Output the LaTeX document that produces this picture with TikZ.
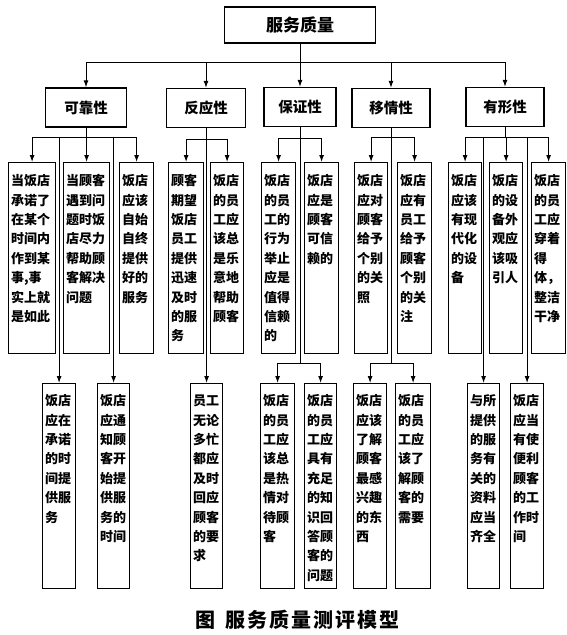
\documentclass[tikz,border=0pt]{standalone}
\usepackage{fontspec}
\setmainfont{Noto Sans CJK SC}
\newfontfamily\capfont[LetterSpace=10]{Noto Sans CJK SC}
\usetikzlibrary{arrows.meta}
\tikzset{
  conn/.style={line width=1pt},
  arrowconn/.style={conn, -{Latex[length=7pt,width=5pt]}},
  rootbox/.style={draw, line width=1.3pt, inner sep=0pt, minimum width=151pt, minimum height=36pt,
    font=\fontsize{17pt}{19pt}\selectfont\bfseries},
  catbox/.style={draw, line width=1.3pt, inner sep=0pt, minimum height=39pt,
    font=\fontsize{14.5pt}{16pt}\selectfont\bfseries},
  leafbox/.style={draw, line width=1.2pt, inner xsep=2.5pt, inner ysep=0pt, anchor=north west},
}
% #1 name, #2 x, #3 y, #4 width, #5 height, #6 first-line height, #7 text
\newcommand\leafnode[7]{%
  \node[leafbox, minimum width=#4pt] (#1) at (#2,#3)
    {\parbox[t][#5pt][t]{\dimexpr #4pt-5pt\relax}{\fontsize{13pt}{19.4pt}\selectfont\bfseries\rule{0pt}{#6pt}#7}};}
\begin{document}
\begin{tikzpicture}[x=1pt,y=-1pt]
\useasboundingbox (0,0) rectangle (566,635);

% top and category boxes
\node[rootbox] (root) at (300,25) {服务质量};
\node[catbox, minimum width=81pt] (kk) at (86,107.5) {可靠性};
\node[catbox, minimum width=79pt] (fy) at (206,108) {反应性};
\node[catbox, minimum width=72pt] (bz) at (300,107) {保证性};
\node[catbox, minimum width=78pt] (yq) at (391,108) {移情性};
\node[catbox, minimum width=78pt] (yx) at (505,107) {有形性};

% level 3
\leafnode{K1}{8}{162}{47}{191}{23}{当饭店\\承诺了\\在某个\\时间内\\作到某\\事,事\\实上就\\是如此}
\leafnode{K2}{63}{162}{46}{191}{23}{当顾客\\遇到问\\题时饭\\店尽力\\帮助顾\\客解决\\问题}
\leafnode{K3}{119}{162}{34}{191}{23}{饭店\\应该\\自始\\自终\\提供\\好的\\服务}
\leafnode{F1}{168}{162}{35}{191}{23}{顾客\\期望\\饭店\\员工\\提供\\迅速\\及时\\的服\\务}
\leafnode{F2}{210}{162}{33}{191}{23}{饭店\\的员\\工应\\该总\\是乐\\意地\\帮助\\顾客}
\leafnode{B1}{261}{162}{34}{191}{23}{饭店\\的员\\工的\\行为\\举止\\应是\\值得\\信赖\\的}
\leafnode{B2}{304}{162}{34}{191}{23}{饭店\\应是\\顾客\\可信\\赖的}
\leafnode{Y1}{354}{162}{33}{191}{23}{饭店\\应对\\顾客\\给予\\个别\\的关\\照}
\leafnode{Y2}{397}{162}{34}{191}{23}{饭店\\应有\\员工\\给予\\顾客\\个别\\的关\\注}
\leafnode{X1}{448}{162}{33}{191}{23}{饭店\\应该\\有现\\代化\\的设\\备}
\leafnode{X2}{489}{162}{33}{191}{23}{饭店\\的设\\备外\\观应\\该吸\\引人}
\leafnode{X3}{531}{162}{34}{191}{23}{饭店\\的员\\工应\\穿着\\得\\体，\\整洁\\干净}

% level 4
\leafnode{KA}{42}{383}{33}{205}{22}{饭店\\应在\\承诺\\的时\\间提\\供服\\务}
\leafnode{KB}{97}{383}{32}{205}{22}{饭店\\应通\\知顾\\客开\\始提\\供服\\务的\\时间}
\leafnode{FA}{190}{383}{32}{205}{22}{员工\\无论\\多忙\\都应\\及时\\回应\\顾客\\的要\\求}
\leafnode{BA}{260}{383}{34}{205}{22}{饭店\\的员\\工应\\该总\\是热\\情对\\待顾\\客}
\leafnode{BB}{304}{383}{32}{205}{22}{饭店\\的员\\工应\\具有\\充足\\的知\\识回\\答顾\\客的\\问题}
\leafnode{YA}{353}{383}{33}{205}{22}{饭店\\应该\\了解\\顾客\\最感\\兴趣\\的东\\西}
\leafnode{YB}{395}{383}{35}{205}{22}{饭店\\的员\\工应\\该了\\解顾\\客的\\需要}
\leafnode{XA}{467}{383}{32}{205}{22}{与所\\提供\\的服\\务有\\关的\\资料\\应当\\齐全}
\leafnode{XB}{510}{383}{33}{205}{22}{饭店\\应当\\有使\\便利\\顾客\\的工\\作时\\间}

% caption
\node (cap) at (297.5,620) {\capfont\bfseries\fontsize{20pt}{22pt}\selectfont 图\hspace{0.5em}服务质量测评模型};

% junction levels
\coordinate (busy) at (0,62);
\coordinate (kbar) at (0,137);
\coordinate (fbar) at (0,139);
\coordinate (bbar) at (0,138);
\coordinate (ybar) at (0,137);
\coordinate (xbar) at (0,137);
\coordinate (bbarb) at (0,363);
\coordinate (ybarb) at (0,363);

% top bus
\draw[conn] (root.south) -- (root |- busy);
\draw[conn] (kk |- busy) -- (yx |- busy);
\foreach \n in {kk,fy,bz,yq,yx} \draw[arrowconn] (\n |- busy) -- (\n);

% 可靠性
\draw[conn] (kk.south) -- (kk |- kbar);
\draw[conn] (K1 |- kbar) -- (K3 |- kbar);
\foreach \n in {K1,K2,K3,KA,KB} \draw[arrowconn] (\n |- kbar) -- (\n);

% 反应性
\draw[conn] (fy.south) -- (fy |- fbar);
\draw[conn] (F1 |- fbar) -- (F2 |- fbar);
\foreach \n in {F1,F2,FA} \draw[arrowconn] (\n |- fbar) -- (\n);

% 保证性
\draw[conn] (bz.south) -- (bz |- bbarb);
\draw[conn] (B1 |- bbar) -- (B2 |- bbar);
\foreach \n in {B1,B2} \draw[arrowconn] (\n |- bbar) -- (\n);
\draw[conn] (BA |- bbarb) -- (BB |- bbarb);
\foreach \n in {BA,BB} \draw[arrowconn] (\n |- bbarb) -- (\n);

% 移情性
\draw[conn] (yq.south) -- (yq |- ybarb);
\draw[conn] (Y1 |- ybar) -- (Y2 |- ybar);
\foreach \n in {Y1,Y2} \draw[arrowconn] (\n |- ybar) -- (\n);
\draw[conn] (YA |- ybarb) -- (YB |- ybarb);
\foreach \n in {YA,YB} \draw[arrowconn] (\n |- ybarb) -- (\n);

% 有形性
\draw[conn] (yx.south) -- (yx |- xbar);
\draw[conn] (X1 |- xbar) -- (X3 |- xbar);
\foreach \n in {X1,X2,X3,XA,XB} \draw[arrowconn] (\n |- xbar) -- (\n);
\end{tikzpicture}
\end{document}
